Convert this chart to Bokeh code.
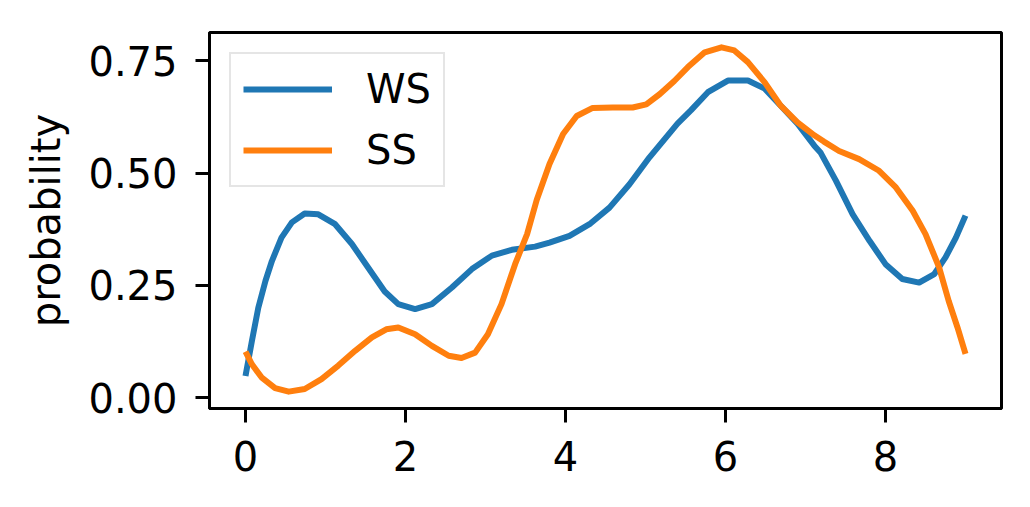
from bokeh.plotting import figure
from bokeh.models import Range1d, FixedTicker, PrintfTickFormatter, Legend, LegendItem
from bokeh.embed import file_html
from bokeh.resources import INLINE

# Data (estimated points along the curves)
ws_x = [0.00, 0.08, 0.16, 0.25, 0.33, 0.45, 0.58, 0.74, 0.91, 1.12, 1.33, 1.53, 1.74,
        1.91, 2.12, 2.33, 2.58, 2.83, 3.08, 3.33, 3.62, 3.80, 4.05, 4.30, 4.55, 4.80,
        5.05, 5.26, 5.40, 5.57, 5.78, 6.03, 6.28, 6.49, 6.69, 6.90, 7.11, 7.19, 7.38,
        7.59, 7.80, 8.00, 8.21, 8.42, 8.61, 8.75, 8.88, 9.00]
ws_y = [0.048, 0.126, 0.200, 0.260, 0.304, 0.356, 0.390, 0.410, 0.408, 0.386, 0.342, 0.290, 0.236,
        0.208, 0.197, 0.208, 0.245, 0.286, 0.316, 0.329, 0.336, 0.345, 0.360, 0.386, 0.423, 0.475,
        0.535, 0.580, 0.610, 0.640, 0.680, 0.706, 0.706, 0.688, 0.650, 0.610, 0.561, 0.545, 0.483,
        0.408, 0.349, 0.297, 0.264, 0.256, 0.275, 0.312, 0.356, 0.405]

ss_x = [0.00, 0.08, 0.20, 0.37, 0.54, 0.74, 0.95, 1.16, 1.37, 1.58, 1.76, 1.91, 2.12,
        2.33, 2.54, 2.70, 2.87, 3.03, 3.20, 3.37, 3.52, 3.64, 3.80, 3.97, 4.14, 4.34,
        4.59, 4.84, 5.01, 5.18, 5.36, 5.53, 5.74, 5.95, 6.11, 6.28, 6.49, 6.69, 6.90,
        7.11, 7.23, 7.42, 7.67, 7.92, 8.13, 8.34, 8.50, 8.67, 8.79, 8.90, 9.00]
ss_y = [0.102, 0.074, 0.045, 0.021, 0.013, 0.019, 0.041, 0.071, 0.104, 0.134, 0.152, 0.156, 0.141,
        0.115, 0.093, 0.088, 0.100, 0.141, 0.208, 0.297, 0.364, 0.440, 0.520, 0.587, 0.627, 0.645,
        0.646, 0.646, 0.653, 0.676, 0.705, 0.736, 0.769, 0.780, 0.773, 0.747, 0.702, 0.650, 0.613,
        0.584, 0.570, 0.549, 0.531, 0.505, 0.468, 0.416, 0.364, 0.290, 0.215, 0.156, 0.097]

x_ticks = [0, 2, 4, 6, 8]
y_ticks = [0.0, 0.25, 0.5, 0.75]
series_names = ["WS", "SS"]
colors = ["#1f77b4", "#ff7f0e"]

FONT = "DejaVu Sans"
FS = "40px"

p = figure(width=1014, height=491, output_backend="svg", toolbar_location=None,
           x_range=Range1d(-0.45, 9.45), y_range=Range1d(-0.0245, 0.813),
           min_border_left=209, min_border_right=13, min_border_top=32, min_border_bottom=83)

p.xgrid.visible = False
p.ygrid.visible = False
p.background_fill_color = "white"
p.border_fill_color = "white"
p.outline_line_color = "black"
p.outline_line_width = 3

r1 = p.line(ws_x, ws_y, line_color=colors[0], line_width=6, line_join="round")
r2 = p.line(ss_x, ss_y, line_color=colors[1], line_width=6, line_join="round")

for ax in (p.xaxis[0], p.yaxis[0]):
    ax.axis_line_width = 3
    ax.axis_line_color = "black"
    ax.major_tick_line_width = 3
    ax.major_tick_line_color = "black"
    ax.major_tick_out = 14
    ax.major_tick_in = 0
    ax.minor_tick_line_color = None
    ax.major_label_text_font = FONT
    ax.major_label_text_font_size = FS
    ax.major_label_text_color = "black"
    ax.major_label_standoff = 18

p.xaxis.ticker = FixedTicker(ticks=x_ticks)
p.yaxis.ticker = FixedTicker(ticks=y_ticks)
p.yaxis.formatter = PrintfTickFormatter(format="%.2f")

p.yaxis.axis_label = "probability"
p.yaxis.axis_label_text_font = FONT
p.yaxis.axis_label_text_font_size = FS
p.yaxis.axis_label_text_font_style = "normal"
p.yaxis.axis_label_text_color = "black"
p.yaxis.axis_label_standoff = 16

legend = Legend(items=[LegendItem(label=series_names[0], renderers=[r1]),
                       LegendItem(label=series_names[1], renderers=[r2])],
                location="top_left")
legend.margin = 20
legend.padding = 12
legend.spacing = 15
legend.glyph_width = 89
legend.label_standoff = 34
legend.label_text_font = FONT
legend.label_text_font_size = FS
legend.label_text_color = "black"
legend.border_line_color = "#cccccc"
legend.border_line_width = 2.5
legend.background_fill_color = "white"
legend.background_fill_alpha = 0.8
p.add_layout(legend)

open("out.html", "w").write(file_html(p, INLINE))
